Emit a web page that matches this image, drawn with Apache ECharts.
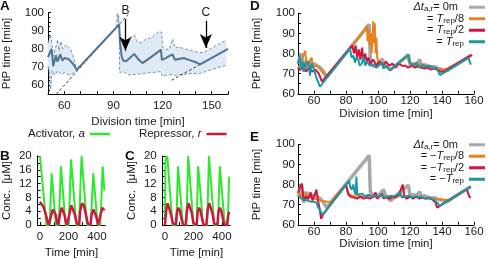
<!DOCTYPE html>
<html><head><meta charset="utf-8">
<script src="https://cdn.jsdelivr.net/npm/echarts@6/dist/echarts.min.js"></script>
<style>html,body{margin:0;padding:0;background:#fff}#c{width:488px;height:259px}</style>
</head><body><div id="c"></div><script>
// ---------- Panel A ----------
const A_mean = [[50,75.5],[51,77.5],[52.2,80],[53.2,70.5],[54.8,76.5],[55.8,73],[57.5,77],[58.8,73.5],[60,75],[61,74],[62.5,74.5],[64,73],[66,71],[67.5,68.5],[93.5,93.5],[94,84],[95,76],[96,73.5],[97.7,73.2],[100,75],[102.7,77.3],[105,74.5],[107.8,72.2],[113,75.5],[119,79.6],[119.6,74],[122,75],[124,76],[126.2,77],[127.5,74],[130,74.5],[133,75],[136,74],[140,72.8],[143,71.5],[160,80]];
const A_upper1 = [[50,83],[51.5,88],[52.5,82],[53.2,76],[54.5,80],[55.9,85.2],[56.8,79],[57.9,84.2],[59,80],[61,82.4],[62.5,81],[64,79.6],[66,74],[67.5,68.5]];
const A_lower1 = [[50,70.5],[51,66],[51.5,57.5],[52,57.5],[52.6,68],[54,65.5],[56,68],[58,66],[60,67],[62,66],[64,66],[66,67],[67.5,68.5]];
const A_upper2 = [[92,92],[92.3,100],[92.8,95.5],[93.2,99],[93.6,90],[94.2,86],[96.6,84.2],[99,85],[102.7,87.9],[104.5,84],[106.8,83.3],[110,85.5],[113,86],[118,89.8],[119.5,89],[120,81],[122,80],[124,79.5],[126.2,85.5],[127.5,80.5],[130,81],[134,80],[138,79],[142,78],[145,78],[150,80.5],[155,83],[159,85]];
const A_lower2 = [[92,92],[93.5,93.2],[93.8,67],[96,67.5],[100,65.5],[104,66],[108,66.5],[113,67],[119,67.5],[119.8,65],[124,66],[128,65.5],[133,66],[137.5,66.5],[143,66.5],[148,68],[153,69.5],[159,71]];
const A_diag1 = [[55,55],[99,99]];      // PtP = division time
const A_diag2 = [[125.5,62.75],[160,80]]; // PtP = division time / 2
const A_arrows = [{name:'B', x:97.3, top:96.5, tip:79}, {name:'C', x:146.5, top:95.5, tip:80.5}];

// ---------- Panels B, C (time in min, concentration in uM) ----------
const B_act = [[0,20],[45,0],[68,0],[82,15],[112,0],[132,0],[147,17],[180,0],[202,0],[218,19],[255,0],[274,0],[292,20],[330,0],[356,0],[374,15],[405,0],[424,0],[440,17],[452,10]];
const B_rep = [[0,6.7],[10,6.3],[25,5.2],[40,3.2],[55,0.8],[62,0],[72,0],[80,3],[90,4.5],[100,4.3],[110,3],[120,0.8],[128,0],[135,0],[142,3.5],[152,5],[162,4.6],[172,3],[182,0.8],[190,0],[200,0],[208,3.5],[220,5.7],[232,5.2],[245,3],[258,0.5],[265,0],[275,0],[282,4],[295,6.3],[308,5.7],[320,3.5],[335,0.5],[342,0],[355,0],[362,3],[375,4.5],[385,4.3],[395,2.5],[408,0],[420,0],[428,3.5],[440,5],[447,4.4],[452,4.7]];
const C_act = [[0,0],[3,19],[16,20],[53,0],[80,0],[91,17],[126,0],[150,0],[163,20],[200,0],[222,0],[233,17],[268,0],[296,0],[309,20],[346,0],[372,0],[385,17],[420,0],[440,0],[451,14]];
const C_rep = [[0,0],[8,4],[18,6.3],[28,5.8],[40,3.5],[55,0.5],[62,0],[75,0],[85,4],[95,5],[105,4],[118,1.5],[128,0],[145,0],[155,4.5],[165,6.3],[175,5.8],[188,3.5],[200,0.5],[210,0],[222,0],[230,4],[240,5],[250,4],[262,1.5],[272,0],[290,0],[300,4.5],[310,6.3],[320,5.8],[333,3.5],[345,0.5],[355,0],[368,0],[376,4],[386,5],[396,4],[408,1.5],[418,0],[435,0],[445,3],[451,3.8]];

// ---------- Panel D ----------
const D_gray = [[50,75],[51,77],[52,80],[53.5,71],[55,76.5],[56,73.5],[57.5,76],[58.5,73.5],[60,75],[62,74],[64,73],[66,71],[68,68.5],[94.5,94.5],[95.2,76],[96.5,74],[98,73.5],[102.7,77.3],[104,74.5],[106,73],[107.8,72],[119,79.5],[120,74.5],[122,75],[124,74.5],[126.2,77],[127,74],[129,74.5],[132,73.5],[135,73.5],[138,72.5],[141,72],[143,71.5],[158,79]];
const D_orange = [[50,73],[52,75],[53,78],[54.5,81.5],[55.5,73],[57,76],[58.5,78],[59.5,73],[61,74],[63,73],[65,71],[67,69],[68,68],[92,92],[93,94],[93.5,86],[94,92],[95,84],[95.5,90],[96,80],[97,96],[97.5,85],[98,95],[98.5,80],[99,88],[99.5,78],[100.5,75],[102,76],[104,74],[106,73],[107.5,71.5],[118,78.7],[119,79.5],[119.5,76],[121,74],[123,75],[125,73],[127,75],[129,73],[132,74],[135,73],[138,72.5],[141,71.5],[142,71],[158,79],[159,79.5]];
const D_red = [[50,73],[51,71.5],[52,74],[53,72],[54,75],[55,71],[57,73],[59,71],[61,72],[63,70],[64,68],[65,66],[66,66],[84,84],[85,80],[86,84],[87,78],[88,82],[89,77],[90,83],[91,76],[92,80],[93,76],[94,78],[95,75],[97,77],[99,74],[101,76],[103,74],[105,76],[107,74],[109,75],[111,73],[113,75],[115,74],[117,74],[119,73],[121,74],[123,73],[125,74],[127,73],[129,72.5],[131,73],[133,72],[135,72.5],[137,72],[139,71],[141,71],[158.5,79.3]];
const D_teal = [[50,75],[51,79],[52,72],[53,76],[54,71],[55,75],[56.5,76],[57.5,69],[58.5,75],[60,72],[61.5,68],[62.5,66],[63.7,63.5],[82.5,82.5],[83.5,78],[84.6,79],[85.6,75.5],[86.5,78],[87.7,77],[88.5,74],[89.8,75],[91,78.5],[92,74],[93,76],[95,74],[97,74.5],[99,73],[100.5,74],[102.3,75.5],[103.5,72.5],[105,74],[107.5,71.7],[119,79.3],[120,75.5],[122,74],[124,75.5],[126,73],[128,74.5],[130,73.5],[132,74],[134,73],[136.5,73],[138.7,69.3],[156.5,77.8],[158,74.5]];

// ---------- Panel E ----------
const E_gray = [[50,75],[51,77],[52,80],[53.5,71],[55,76.5],[56,73.5],[57.5,76],[58.5,73.5],[60,75],[62,74],[64,73],[66,71],[68,68.5],[94.5,94.5],[95.2,76.5],[96.5,75],[98,74],[100,74.5],[103.5,77.5],[104.5,75],[106,73.5],[107.8,72],[119,79.8],[120,74.5],[122,75],[124,74.5],[126.2,76.5],[127,74],[129,74.5],[132,73.5],[135,73.5],[138,72.5],[141,72],[143,71.5],[158,79]];
const E_orange = [[50,74],[51,76],[52,73],[53,75],[54,72],[55,76],[56,72],[57,74],[58,73.5],[60,73],[62,72.5],[64,72],[66,71.8],[68,71.5],[70,71.2],[71.2,71.2],[80,80],[81,77],[82,75],[84,74.5],[86,74],[88,74.5],[90,74],[92,74.5],[94,74],[96,74.5],[98,74],[100,74],[102,74.5],[104,73.5],[106,73.5],[108,73],[110,73.5],[112,74],[114,74.5],[116,74],[118,73.5],[120,74],[122,73.5],[124,74],[126,73.5],[128,73.5],[130,73],[134,73],[138,72.8],[142,72.5],[145,72.5],[158,79]];
const E_red = [[50,76],[51,78],[52.5,80.5],[53.5,72],[55,74],[56.5,73],[58,76],[59,72],[60,74],[61.5,77.5],[62.5,72],[63.5,68],[64.5,63],[65.5,65],[66.5,66],[80,80],[80.5,78],[81.5,75],[83,74],[85,73.5],[87,73],[89,74],[91,73],[93,73.5],[95,73],[97,74],[98.5,76],[99.5,73],[101,74],[102.5,75.5],[103.5,73],[105,74],[107,73],[109,74],[111,73.5],[113,75],[115.5,80],[116.5,74],[118,73],[120,74],[122,73],[124,74],[126,73],[128,73.5],[130,73],[132,73.5],[134,72.5],[136,71],[137,68.5],[138,69],[155.5,77.8],[156.5,77],[157,74],[158,73.5]];
const E_teal = [[50,74.5],[52,73],[54,72.5],[56,72],[58,71.5],[60,71.5],[61.5,71],[62.5,69],[63.5,67.5],[65.5,65],[82,82],[82.5,79],[83.5,77.5],[84.5,80],[85.5,76],[86,75],[86.5,84],[87,75],[88,74.5],[90,75.5],[92,74],[94,75],[96,74],[98,74.5],[100,74],[102,75],[104,73.5],[106,74],[108,74.5],[110,74],[112,75],[114,76],[115,73.5],[117,74],[119,74.5],[121,73.5],[123,74],[125,73.5],[127,74],[129,73],[131,73.5],[133,73],[135,72.5],[137,71],[138.5,69.5],[158,79]];

// ---------- styling ----------
const FONT = '"Liberation Sans", Arial, sans-serif';
const TXT = '#1a1a1a';
const COL = {gray:'#a8a8a8', orange:'#e8821e', red:'#d2173f', teal:'#1898a8', green:'#2ee82e', rep:'#d0163e', mean:'#4f7592', band:'#e0eaf4', bandEdge:'#7098b8'};

function xAxisOf(g, min, max, interval, labelFn, name, nameGap, margin, extra) {
  const ax = {
    type:'value', gridIndex:g, min:min, max:max, interval:interval,
    axisLine:{show:true, onZero:false, lineStyle:{color:'#000', width:1}},
    axisTick:{show:true, inside:true, length:3, lineStyle:{color:'#000', width:1}},
    splitLine:{show:false},
    axisLabel:{color:TXT, fontSize:11.5, fontFamily:FONT, margin:margin, formatter:labelFn, showMinLabel:true, showMaxLabel:true, hideOverlap:false},
    name:name, nameLocation:'middle', nameGap:nameGap, nameMoveOverlap:false,
    nameTextStyle:{color:TXT, fontSize:11.5, fontFamily:FONT}
  };
  if (extra) extra(ax);
  return ax;
}
function yAxisOf(g, min, max, interval, labelFn, name, nameGap, margin, extra) {
  const ax = xAxisOf(g, min, max, interval, labelFn, name, nameGap, margin, extra);
  ax.nameRotate = 90;
  return ax;
}
const mod = (m, lo) => v => (Math.abs(v % m) < 1e-6 && v >= lo) ? String(v) : '';

const grids = [
  {left:48, top:12.7, width:180, height:81.6},
  {left:37.7, top:156, width:67.5, height:69},
  {left:162.7, top:156, width:67.5, height:69},
  {left:298, top:13.3, width:176, height:80.5},
  {left:298, top:144.3, width:176, height:80.5}
].map(g => Object.assign(g, {containLabel:false, outerBoundsMode:'none'}));

const concX = ax => { ax.interval = undefined; ax.axisLabel.customValues = [0,200,400]; ax.axisTick.customValues = [0,100,200,300,400]; };

const xAxes = [
  xAxisOf(0, 50, 160, 10, mod(30, 60), 'Division time [min]', 21.5, 6),
  xAxisOf(1, -16, 458, 100, null, 'Time [min]', 22, 6, concX),
  xAxisOf(2, -16, 458, 100, null, 'Time [min]', 22, 6, concX),
  xAxisOf(3, 50, 160, 10, mod(20, 60), 'Division time [min]', 14.5, 1),
  xAxisOf(4, 50, 160, 10, mod(20, 60), 'Division time [min]', 13.5, 1)
];
const yAxes = [
  yAxisOf(0, 55, 100, 5, mod(10, 60), 'PtP time [min]', 35, 4, ax => { ax.minorTick = {show:true, splitNumber:2, length:2, lineStyle:{color:'#000'}}; }),
  yAxisOf(1, 0, 20, 2, mod(4, 0), 'Conc.  [μM]', 25, 6),
  yAxisOf(2, 0, 20, 2, mod(4, 0), 'Conc.  [μM]', 25, 6),
  yAxisOf(3, 60, 100, 5, mod(10, 60), 'PtP time [min]', 35, 3),
  yAxisOf(4, 60, 100, 5, mod(10, 60), 'PtP time [min]', 35, 3)
];

function line(name, g, data, color, width, z, extra) {
  const s = {type:'line', name:name, xAxisIndex:g, yAxisIndex:g, data:data, showSymbol:false, symbol:'none',
    lineStyle:{color:color, width:width}, itemStyle:{color:color}, z:z, animation:false, clip:true, silent:true};
  if (extra) Object.assign(s, extra);
  return s;
}

const bands = [[A_upper1, A_lower1], [A_upper2, A_lower2]];
const series = [
  {type:'custom', name:'bandA', xAxisIndex:0, yAxisIndex:0, data:[[50,60,0],[92,60,1]], encode:{x:0, y:1}, z:1, silent:true, animation:false, clip:true,
    renderItem: function(params, api) {
      const b = bands[api.value(2)];
      const pts = b[0].concat(b[1].slice().reverse()).map(p => api.coord(p));
      return {type:'polygon', shape:{points:pts}, style:{fill:COL.band}};
    }},
  line('Aup1', 0, A_upper1, COL.bandEdge, 1, 2, {lineStyle:{color:COL.bandEdge, width:1, type:[3,2]}}),
  line('Alo1', 0, A_lower1, COL.bandEdge, 1, 2, {lineStyle:{color:COL.bandEdge, width:1, type:[3,2]}}),
  line('Aup2', 0, A_upper2, COL.bandEdge, 1, 2, {lineStyle:{color:COL.bandEdge, width:1, type:[3,2]}}),
  line('Alo2', 0, A_lower2, COL.bandEdge, 1, 2, {lineStyle:{color:COL.bandEdge, width:1, type:[3,2]}}),
  line('Ad1', 0, A_diag1, '#111', 0.8, 3, {lineStyle:{color:'#111', width:0.8, type:[3,2]}}),
  line('Ad2', 0, A_diag2, '#111', 0.8, 3, {lineStyle:{color:'#111', width:0.8, type:[3,2]}}),
  line('Amean', 0, A_mean, COL.mean, 2, 4, {
    markLine:{silent:true, animation:false, symbol:['none','arrow'], symbolSize:[9,14],
      lineStyle:{color:'#000', width:1.3, type:'solid'},
      label:{show:true, position:'start', formatter:'{b}', color:TXT, fontSize:12, fontFamily:FONT, distance:2},
      data: A_arrows.map(a => [{name:a.name, coord:[a.x, a.top]}, {coord:[a.x, a.tip]}])
    }}),
  line('act', 1, B_act, COL.green, 2, 2),
  line('rep', 1, B_rep, COL.rep, 2.5, 3),
  line('act', 2, C_act, COL.green, 2, 2),
  line('rep', 2, C_rep, COL.rep, 2.5, 3),
  line('D0', 3, D_gray, COL.gray, 3.5, 2),
  line('D1', 3, D_orange, COL.orange, 2, 3),
  line('D2', 3, D_red, COL.red, 2, 4),
  line('D3', 3, D_teal, COL.teal, 2, 5),
  line('E0', 4, E_gray, COL.gray, 3.5, 2),
  line('E1', 4, E_orange, COL.orange, 2, 3),
  line('E2', 4, E_red, COL.red, 2, 4),
  line('E3', 4, E_teal, COL.teal, 2, 5)
];

const LEG = {
  act:'Activator, {i|a}', rep:'Repressor, {i|r}',
  D0:'{i|Δt}{s|a,r}= 0m', D1:'= {i|T}{s|rep}/8', D2:'= {i|T}{s|rep}/2', D3:'= {i|T}{s|rep}',
  E0:'{i|Δt}{s|a,r}= 0m', E1:'= −{i|T}{s|rep}/8', E2:'= −{i|T}{s|rep}/2', E3:'= −{i|T}{s|rep}'
};
const richSmall = {
  i:{fontStyle:'italic', fontSize:11, fontFamily:FONT, color:TXT, lineHeight:11.5},
  s:{fontSize:8, fontFamily:FONT, color:TXT, verticalAlign:'bottom', lineHeight:8}
};
function legendDE(prefix, top, w) {
  return {
    orient:'vertical', right:3, top:top, align:'right', itemWidth:16, itemHeight:3, itemGap:0, icon:'rect',
    selectedMode:false, padding:0,
    data:[{name:prefix+'0', textStyle:{width:54, align:'right', padding:[0,6,0,0]}}, prefix+'1', prefix+'2', prefix+'3'],
    formatter: n => LEG[n],
    textStyle:{fontSize:11, fontFamily:FONT, color:TXT, lineHeight:11.5, width:w, align:'left', rich:richSmall}
  };
}
const legends = [
  {orient:'horizontal', left:28, top:128, align:'right', itemWidth:20, itemHeight:2.5, itemGap:29, icon:'rect', selectedMode:false, padding:0,
    data:['act','rep'], formatter: n => LEG[n],
    textStyle:{fontSize:11.5, fontFamily:FONT, color:TXT, rich:{i:{fontStyle:'italic', fontSize:11.5, fontFamily:FONT, color:TXT}}}},
  legendDE('D', 1.5, 42),
  legendDE('E', 139, 46)
];

const titles = [['A',0,-1],['B',0,149],['C',125,149],['D',250,-1],['E',250,130]].map(t => ({
  text:t[0], left:t[1], top:t[2], padding:0, textStyle:{fontSize:13.5, fontWeight:'bold', fontFamily:FONT, color:'#111'}
}));

const chart = echarts.init(document.getElementById('c'), null, {renderer:'canvas'});
chart.setOption({
  animation:false, backgroundColor:'#fff',
  title:titles, legend:legends, grid:grids, xAxis:xAxes, yAxis:yAxes, series:series
});
</script></body></html>
